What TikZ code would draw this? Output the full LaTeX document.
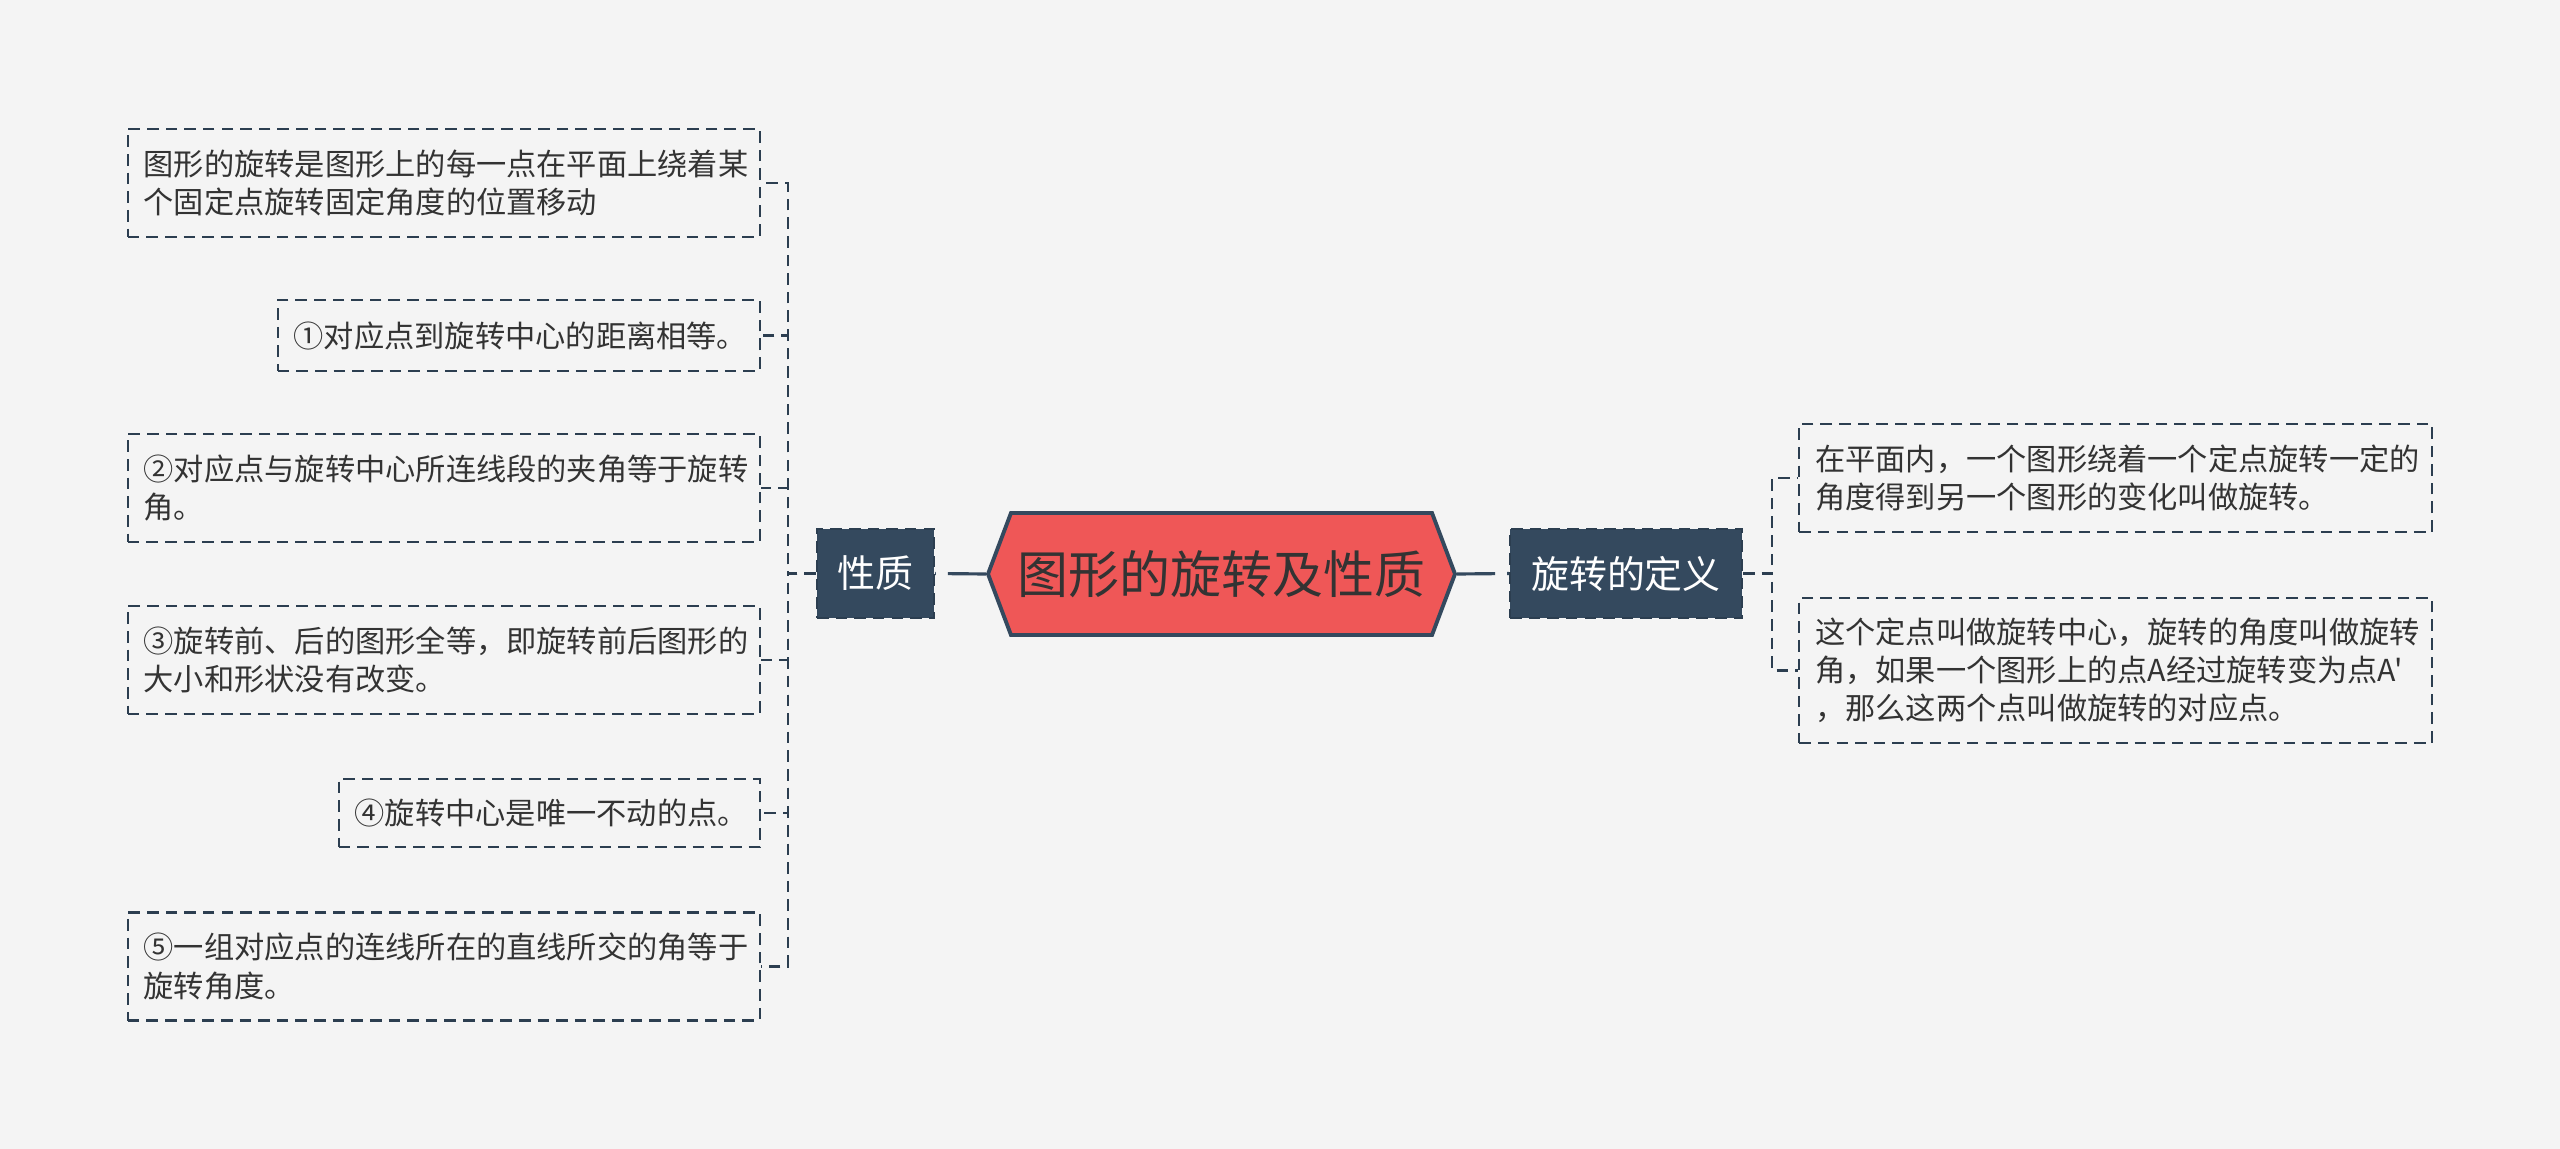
\documentclass[tikz,border=0pt]{standalone}
\usepackage{fontspec}
\setmainfont{Noto Sans CJK SC}[Ligatures=TeXOff]
\usepackage{tikz}
\usetikzlibrary{
  shapes.symbols,
  positioning,
  calc
}
\definecolor{pagebg}{HTML}{F4F4F4}
\definecolor{rootRed}{HTML}{EF5757}
\definecolor{navyFill}{HTML}{34495E}
\definecolor{navyLine}{HTML}{2C3E50}
\definecolor{textdark}{HTML}{333333}
\tikzset{
  rootbox/.style={
    shape=signal, signal to=west and east,
    signal pointer angle=138.7,
    draw=navyFill, line width=1.1pt, fill=rootRed,
    text=textdark, font=\fontsize{14.5pt}{17pt}\selectfont,
    minimum width=4.67cm, minimum height=1.22cm, inner sep=0pt,
  },
  topicbox/.style={
    draw=navyLine, fill=navyFill, line width=0.7pt,
    dash pattern=on 3.3pt off 2pt,
    text=white, font=\fontsize{10.8pt}{13pt}\selectfont,
    minimum height=0.89cm, inner sep=0pt,
  },
  leafbox/.style 2 args={
    draw=navyLine, fill=pagebg, line width=0.7pt,
    dash pattern=on 3.3pt off 2pt,
    text=textdark, font=\fontsize{8.6pt}{10.9pt}\selectfont,
    align=left, text width=#1, minimum height=#2,
    inner xsep=0.16cm, inner ysep=0pt,
  },
  mainlink/.style={
    draw=navyFill, line width=0.9pt,
    dash pattern=on 0.38cm off 0.12cm,
  },
  branchlink/.style={
    draw=navyLine, line width=0.7pt,
    dash pattern=on 3.3pt off 2pt,
  },
}
\begin{document}
\begin{tikzpicture}

  % ─── Page ─────────────────────────────────────────────────────────────
  \fill[pagebg] (0,0) rectangle (25.6,-11.49);
  \useasboundingbox (0,0) rectangle (25.6,-11.49);

  % ─── Root ─────────────────────────────────────────────────────────────
  \node[rootbox] (root) at (12.215,-5.74) {图形的旋转及性质};

  % ─── Topics ───────────────────────────────────────────────────────────
  \node[topicbox, minimum width=1.17cm] (xingzhi) at (8.755,-5.735) {性质};
  \node[topicbox, minimum width=2.32cm] (dingyi) at (16.26,-5.735) {旋转的定义};

  \draw[mainlink] (root.west) -- (xingzhi.east);
  \draw[mainlink] (root.east) -- (dingyi.west);

  % ─── Properties (left) ────────────────────────────────────────────────
  \node[leafbox={6.0cm}{1.08cm}, anchor=east] (prop1) at (7.61,-1.83)
    {图形的旋转是图形上的每一点在平面上绕着某\\个固定点旋转固定角度的位置移动};
  \node[leafbox={4.5cm}{0.71cm}, anchor=east] (prop2) at (7.61,-3.355)
    {①对应点到旋转中心的距离相等。};
  \node[leafbox={6.0cm}{1.08cm}, anchor=east] (prop3) at (7.61,-4.88)
    {②对应点与旋转中心所连线段的夹角等于旋转\\角。};
  \node[leafbox={6.0cm}{1.08cm}, anchor=east] (prop4) at (7.61,-6.60)
    {③旋转前、后的图形全等，即旋转前后图形的\\大小和形状没有改变。};
  \node[leafbox={3.89cm}{0.68cm}, anchor=east] (prop5) at (7.61,-8.13)
    {④旋转中心是唯一不动的点。};
  \node[leafbox={6.0cm}{1.08cm}, anchor=east] (prop6) at (7.61,-9.665)
    {⑤一组对应点的连线所在的直线所交的角等于\\旋转角度。};

  \foreach \leaf in {prop1,prop2,prop3,prop4,prop5,prop6}
    \draw[branchlink] (xingzhi.west) -- ++(-0.28,0) |- (\leaf.east);

  % ─── Definition (right) ───────────────────────────────────────────────
  \node[leafbox={6.01cm}{1.08cm}, anchor=west] (def1) at (17.98,-4.78)
    {在平面内，一个图形绕着一个定点旋转一定的\\角度得到另一个图形的变化叫做旋转。};
  \node[leafbox={6.01cm}{1.45cm}, anchor=west] (def2) at (17.98,-6.705)
    {这个定点叫做旋转中心，旋转的角度叫做旋转\\角，如果一个图形上的点A经过旋转变为点A'\\，那么这两个点叫做旋转的对应点。};

  \foreach \leaf in {def1,def2}
    \draw[branchlink] (dingyi.east) -- ++(0.29,0) |- (\leaf.west);

\end{tikzpicture}
\end{document}
